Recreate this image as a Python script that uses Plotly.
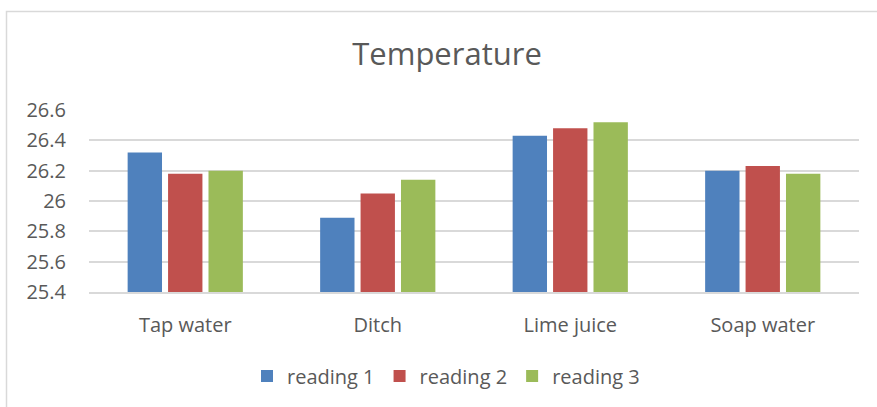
import plotly.graph_objects as go

categories = ["Tap water", "Ditch", "Lime juice", "Soap water"]
reading_1 = [26.32, 25.89, 26.43, 26.20]
reading_2 = [26.18, 26.05, 26.48, 26.23]
reading_3 = [26.20, 26.14, 26.52, 26.18]
series_names = ["reading 1", "reading 2", "reading 3"]
colors = ["#4f81bd", "#c0504d", "#9bbb59"]
y_ticks = [25.4, 25.6, 25.8, 26.0, 26.2, 26.4, 26.6]
y_tick_labels = ["25.4", "25.6", "25.8", "26", "26.2", "26.4", "26.6"]

FONT = "Open Sans, sans-serif"
TXT = "#595959"

fig = go.Figure()
for name, vals, c in zip(series_names, [reading_1, reading_2, reading_3], colors):
    fig.add_trace(go.Bar(x=categories, y=vals, name=name,
                         marker=dict(color=c, line=dict(width=0))))

W, H = 877, 407
ml, mr, mt, mb = 89, 18, 110, 115
pw, ph = W - ml - mr, H - mt - mb

def px(x):
    return (x - ml) / pw

def py(y):
    return (H - mb - y) / ph

fig.update_layout(
    width=W, height=H,
    margin=dict(l=ml, r=mr, t=mt, b=mb),
    paper_bgcolor="white", plot_bgcolor="white",
    font=dict(family=FONT, color=TXT, size=20),
    title=dict(text="Temperature", xref="paper", x=px(447), xanchor="center",
               y=1 - 54 / H, yanchor="middle",
               font=dict(family=FONT, size=31, color=TXT)),
    barmode="group", bargap=0.37, bargroupgap=0.15,
    showlegend=True,
    legend=dict(orientation="h", x=px(446), xanchor="center", y=py(376), yanchor="middle",
                font=dict(family=FONT, size=20, color=TXT), itemwidth=30,
                traceorder="normal"),
    xaxis=dict(showgrid=False, showline=True, linecolor="#d9d9d9", linewidth=1.5,
               ticks="", tickfont=dict(size=20, color=TXT), ticklabelstandoff=14),
    yaxis=dict(range=[25.4, 26.6], tickvals=y_ticks, ticktext=y_tick_labels,
               showgrid=True, gridcolor="#d9d9d9", gridwidth=1.5, zeroline=False,
               showline=False, ticks="", tickfont=dict(size=20, color=TXT),
               ticklabelstandoff=22),
    shapes=[dict(type="rect", xref="paper", yref="paper",
                 x0=px(6.5), x1=px(890), y0=py(11.5), y1=py(420),
                 line=dict(color="#d9d9d9", width=1.5), fillcolor="rgba(0,0,0,0)", layer="below")],
)

fig.write_html("out.html", config={"displayModeBar": False},
               post_script="document.body.style.margin='0px';")
